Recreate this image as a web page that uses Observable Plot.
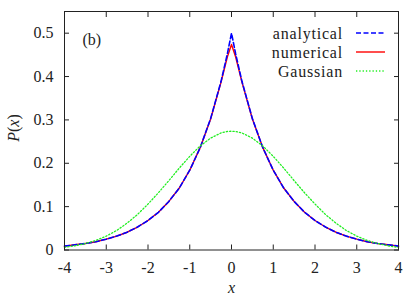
<!DOCTYPE html>
<html>
<head>
<meta charset="utf-8">
<script src="https://cdn.jsdelivr.net/npm/d3@7"></script>
<script src="https://cdn.jsdelivr.net/npm/@observablehq/plot@0.6"></script>
<style>
  html, body { margin: 0; padding: 0; background: #fff; }
</style>
</head>
<body>
<div id="chart"></div>
<script>
const xs = [-4,-3.75,-3.5,-3.25,-3,-2.75,-2.5,-2.25,-2,-1.75,-1.5,-1.25,-1,-0.75,-0.5,-0.25,-0.1,0,0.1,0.25,0.5,0.75,1,1.25,1.5,1.75,2,2.25,2.5,2.75,3,3.25,3.5,3.75,4];
const analytical = [0.009,0.012,0.015,0.019,0.025,0.032,0.041,0.053,0.068,0.087,0.112,0.143,0.184,0.236,0.303,0.389,0.452,0.5,0.452,0.389,0.303,0.236,0.184,0.143,0.112,0.087,0.068,0.053,0.041,0.032,0.025,0.019,0.015,0.012,0.009];
const numerical = [0.009,0.012,0.015,0.019,0.025,0.032,0.041,0.053,0.068,0.087,0.112,0.143,0.184,0.236,0.302,0.387,0.445,0.474,0.445,0.387,0.302,0.236,0.184,0.143,0.112,0.087,0.068,0.053,0.041,0.032,0.025,0.019,0.015,0.012,0.009];
const gaussian = [0.006,0.0096,0.015,0.022,0.032,0.045,0.062,0.082,0.106,0.132,0.160,0.189,0.216,0.240,0.258,0.270,0.2733,0.274,0.2733,0.270,0.258,0.240,0.216,0.189,0.160,0.132,0.106,0.082,0.062,0.045,0.032,0.022,0.015,0.0096,0.006];
const xTicks = [-4,-3,-2,-1,0,1,2,3,4];
const yTicks = [0,0.1,0.2,0.3,0.4,0.5];
const seriesNames = ["analytical","numerical","Gaussian"];
const seriesColors = ["#0000ff","#ff0000","#22ee22"];
const seriesDash = ["5,2.5",null,"1.3,2"];
const seriesWidth = [1.6,1.4,1.3];

const toRows = vals => xs.map((x,i) => ({x, y: vals[i]}));

const FONT = "'Liberation Serif', 'DejaVu Serif', 'Times New Roman', Times, serif";
const fs = 16;
const blank = () => "";
const plot = Plot.plot({
  width: 407,
  height: 296,
  marginLeft: 64,
  marginRight: 9,
  marginTop: 11,
  marginBottom: 46.5,
  style: {fontSize: fs + "px", fontFamily: FONT, background: "#fff", color: "#222"},
  x: {domain: [-4, 4]},
  y: {domain: [0, 0.55]},
  marks: [
    Plot.line(toRows(numerical), {x: "x", y: "y", stroke: seriesColors[1], strokeWidth: seriesWidth[1]}),
    Plot.line(toRows(analytical), {x: "x", y: "y", stroke: seriesColors[0], strokeWidth: seriesWidth[0], strokeDasharray: seriesDash[0]}),
    Plot.line(toRows(gaussian), {x: "x", y: "y", stroke: seriesColors[2], strokeWidth: seriesWidth[2], strokeDasharray: seriesDash[2]}),
    Plot.axisY(yTicks, {anchor: "left", tickSize: -5, tickPadding: 16, tickFormat: d => d === 0 ? "0" : d3.format(".1f")(d), label: null, fontSize: fs}),
    Plot.axisY(yTicks, {anchor: "right", tickSize: -5, tickFormat: blank, label: null}),
    Plot.axisX(xTicks, {anchor: "bottom", tickSize: -5, tickPadding: 16.5, tickFormat: d => String(d), label: null, fontSize: fs}),
    Plot.axisX(xTicks, {anchor: "top", tickSize: -5, tickFormat: blank, label: null}),
    Plot.frame({stroke: "#222", strokeWidth: 1}),
    Plot.text(["(b)"], {frameAnchor: "top-left", dx: 18, dy: 22, textAnchor: "start", fontSize: fs}),
  ]
});

document.getElementById("chart").appendChild(plot);

const svg = d3.select(plot);
// x-axis label
svg.append("text")
  .attr("x", 231.5).attr("y", 287)
  .attr("text-anchor", "middle")
  .attr("dominant-baseline", "central")
  .attr("font-size", fs)
  .attr("font-style", "italic")
  .attr("fill", "#222")
  .text("x");
// y-axis label P(x)
const yl = svg.append("text")
  .attr("transform", "translate(13,128) rotate(-90)")
  .attr("text-anchor", "middle")
  .attr("dominant-baseline", "central")
  .attr("font-size", fs)
  .attr("fill", "#222");
yl.append("tspan").attr("font-style", "italic").text("P");
yl.append("tspan").text("(");
yl.append("tspan").attr("font-style", "italic").text("x");
yl.append("tspan").text(")");

// legend
const lg = svg.append("g");
const rowsY = [33, 52, 71];
seriesNames.forEach((name, i) => {
  lg.append("text")
    .attr("x", 343).attr("y", rowsY[i])
    .attr("text-anchor", "end")
    .attr("dominant-baseline", "central")
    .attr("font-size", fs)
    .attr("fill", "#222")
    .attr("letter-spacing", "0.8px")
    .text(name);
  lg.append("line")
    .attr("x1", 356).attr("x2", 385)
    .attr("y1", rowsY[i]).attr("y2", rowsY[i])
    .attr("stroke", seriesColors[i])
    .attr("stroke-width", seriesWidth[i])
    .attr("stroke-dasharray", seriesDash[i]);
});
svg.selectAll("text").attr("font-family", FONT).style("font-family", FONT);
</script>
</body>
</html>
